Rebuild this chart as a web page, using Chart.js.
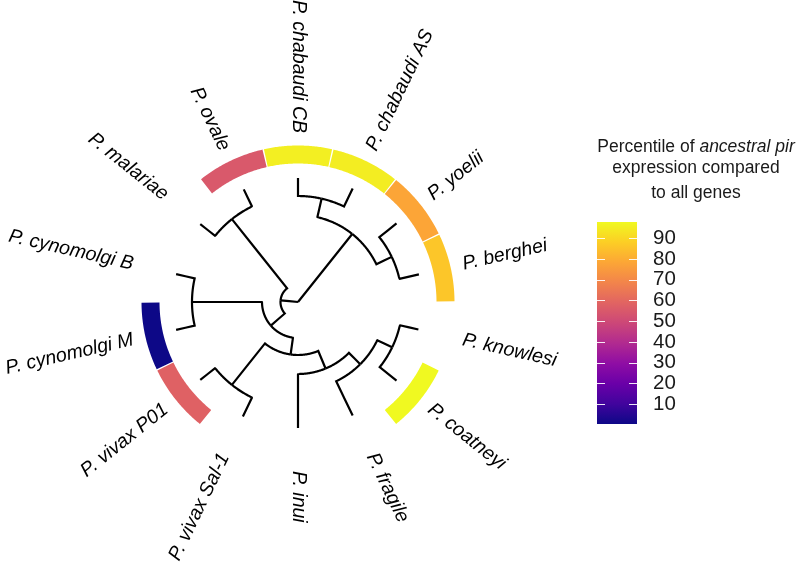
<!DOCTYPE html>
<html>
<head>
<meta charset="utf-8">
<script src="https://cdn.jsdelivr.net/npm/chart.js@4.4.1/dist/chart.umd.min.js"></script>
<style>
  body { margin: 0; background: #fff; }
  #wrap { position: relative; width: 796px; height: 576px; font-family: "Liberation Sans", Arial, sans-serif; }
  #tree { position: absolute; left: 0; top: 0; }
  #bar { position: absolute; left: 597px; top: 222px; }
  .ttl { position: absolute; left: 596px; width: 200px; text-align: center; font-size: 17.5px; line-height: 20px; color: #1a1a1a; white-space: nowrap; }
</style>
</head>
<body>
<div id="wrap">
  <canvas id="tree" width="796" height="576"></canvas>
  <div class="ttl" style="top:136px">Percentile of <i>ancestral pir</i></div>
  <div class="ttl" style="top:157px">expression compared</div>
  <div class="ttl" style="top:182px">to all genes</div>
  <canvas id="bar" width="80" height="202"></canvas>
</div>
<script>
// tips in tree order, anticlockwise starting just above 3 o'clock
const tipNames = ['P. berghei', 'P. yoelii', 'P. chabaudi AS', 'P. chabaudi CB', 'P. ovale', 'P. malariae',
  'P. cynomolgi B', 'P. cynomolgi M', 'P. vivax P01', 'P. vivax Sal-1', 'P. inui', 'P. fragile',
  'P. coatneyi', 'P. knowlesi'];
const tipParent = ['rodB', 'rodB', 'chab', 'chab', 'malOv', 'malOv', 'cyno', 'cyno', 'vivax', 'vivax',
  'inuiCl', 'fragCl', 'knowCl', 'knowCl'];
const tipDepth = [124, 126, 126, 124, 125, 125, 125, 125, 125, 127, 126, 126, 126, 123.5];
// percentile of ancestral pir expression (null = no ring segment)
const pirPercentile = [86, 78, 95, 95.5, 55, null, null, 0.4, 58, null, null, null, 97.8, null];

// internal nodes
const nodeNames = ['root', 'rod', 'chab', 'rodB', 'n1', 'malOv', 'n2', 'cyno', 'n3', 'vivax', 'inuiCl', 'fragCl', 'knowCl'];
const nodeParent = [null, 'root', 'rod', 'rod', 'root', 'n1', 'n1', 'n2', 'n2', 'n3', 'n3', 'inuiCl', 'fragCl'];
const nodeDepth = [0, 87, 106, 104, 17.5, 106, 36, 106, 53, 106, 72, 88, 104.5];

const barTicks = [10, 20, 30, 40, 50, 60, 70, 80, 90];

const plasmaStops = ['#0d0887', '#41049d', '#6a00a8', '#8f0da4', '#b12a90', '#cc4778',
  '#e16462', '#f2844b', '#fca636', '#fcce25', '#f0f921'];

function hexRgb(h) { return [1, 3, 5].map(i => parseInt(h.substr(i, 2), 16)); }
function plasma(t) {
  t = Math.min(1, Math.max(0, t));
  const f = t * (plasmaStops.length - 1);
  const i = Math.min(Math.floor(f), plasmaStops.length - 2);
  const a = hexRgb(plasmaStops[i]), b = hexRgb(plasmaStops[i + 1]);
  const c = a.map((v, k) => Math.round(v + (b[k] - v) * (f - i)));
  return `rgb(${c[0]},${c[1]},${c[2]})`;
}

const vals = pirPercentile.filter(v => v != null);
const vMin = Math.min(...vals), vMax = Math.max(...vals);

// layout: tips evenly spaced, internal node angle = mean of children
const step = 360 / tipNames.length;
const angle = {}, depth = {}, parentOf = {};
tipNames.forEach((n, i) => { angle[n] = (i + 0.5) * step; depth[n] = tipDepth[i]; parentOf[n] = tipParent[i]; });
nodeNames.forEach((n, i) => { depth[n] = nodeDepth[i]; parentOf[n] = nodeParent[i]; });
function nodeAngle(n) {
  if (angle[n] !== undefined) return angle[n];
  const kids = Object.keys(parentOf).filter(k => parentOf[k] === n);
  angle[n] = kids.reduce((s, k) => s + nodeAngle(k), 0) / kids.length;
  return angle[n];
}
nodeNames.forEach(nodeAngle);

const rad = d => d * Math.PI / 180;
const pt = (r, deg) => ({ x: r * Math.cos(rad(deg)), y: r * Math.sin(rad(deg)) });
function arcPts(r, a0, a1) {
  const n = Math.max(2, Math.ceil(Math.abs(a1 - a0)) + 1);
  const out = [];
  for (let k = 0; k < n; k++) out.push(pt(r, a0 + (a1 - a0) * k / (n - 1)));
  return out;
}

// branches: arc at parent depth, then radial line out to the child
// (tiny tension keeps chart.js off its fast path, which merges same-x points)
const edgeSets = Object.keys(parentOf).filter(k => parentOf[k]).map(k => {
  const p = parentOf[k];
  const data = arcPts(depth[p], angle[p], angle[k]);
  data.push(pt(depth[k], angle[k]));
  return { data, showLine: true, borderColor: '#000', borderWidth: 2.2, borderJoinStyle: 'miter',
    borderCapStyle: 'butt', pointRadius: 0, tension: 0.0001 };
});

const ringR = 147.5, half = step / 2 - 0.25;
const ringSets = [];
tipNames.forEach((n, i) => {
  if (pirPercentile[i] == null) return;
  ringSets.push({ data: arcPts(ringR, angle[n] - half, angle[n] + half), showLine: true,
    borderColor: plasma((pirPercentile[i] - vMin) / (vMax - vMin)), borderWidth: 18,
    borderCapStyle: 'butt', borderJoinStyle: 'round', pointRadius: 0, tension: 0.0001 });
});

const labelR = 169;
const tipLabels = {
  id: 'tipLabels',
  afterDatasetsDraw(chart) {
    const { ctx, scales: { x, y } } = chart;
    ctx.save();
    ctx.font = 'italic 19.5px "Liberation Sans", Arial, sans-serif';
    ctx.fillStyle = '#000';
    ctx.textBaseline = 'middle';
    tipNames.forEach(n => {
      const a = angle[n], p = pt(labelR, a);
      const flip = a > 89 && a < 269;
      ctx.save();
      ctx.translate(x.getPixelForValue(p.x), y.getPixelForValue(p.y));
      ctx.rotate(-rad(flip ? a - 180 : a));
      ctx.textAlign = flip ? 'right' : 'left';
      ctx.fillText(n, 0, 0);
      ctx.restore();
    });
    ctx.restore();
  }
};

new Chart(document.getElementById('tree'), {
  type: 'scatter',
  data: { datasets: ringSets.concat(edgeSets) },
  options: {
    responsive: false, animation: false, events: [],
    layout: { padding: 0 },
    plugins: { legend: { display: false }, tooltip: { enabled: false } },
    scales: {
      x: { type: 'linear', min: -298, max: 498, display: false },
      y: { type: 'linear', min: -274, max: 302, display: false }
    }
  },
  plugins: [tipLabels]
});

// colour bar
const barMarks = {
  id: 'barMarks',
  afterDatasetsDraw(chart) {
    const { ctx, chartArea: a, scales: { y } } = chart;
    ctx.save();
    ctx.strokeStyle = 'rgba(255,255,255,0.9)';
    ctx.lineWidth = 1;
    barTicks.forEach(v => {
      const py = Math.round(y.getPixelForValue(v)) + 0.5;
      ctx.beginPath();
      ctx.moveTo(a.left, py); ctx.lineTo(a.left + 8, py);
      ctx.moveTo(a.right - 8, py); ctx.lineTo(a.right, py);
      ctx.stroke();
    });
    ctx.restore();
  }
};

new Chart(document.getElementById('bar'), {
  type: 'bar',
  data: {
    labels: [''],
    datasets: [{
      data: [[vMin, vMax]],
      barPercentage: 1, categoryPercentage: 1, borderWidth: 0,
      backgroundColor: c => {
        const ch = c.chart;
        if (!ch.chartArea) return null;
        const ys = ch.scales.y;
        const g = ch.ctx.createLinearGradient(0, ys.getPixelForValue(vMin), 0, ys.getPixelForValue(vMax));
        plasmaStops.forEach((s, i) => g.addColorStop(i / (plasmaStops.length - 1), s));
        return g;
      }
    }]
  },
  options: {
    responsive: false, animation: false, events: [],
    layout: { padding: 0 },
    plugins: { legend: { display: false }, tooltip: { enabled: false } },
    scales: {
      x: { display: false },
      y: {
        position: 'right', min: vMin, max: vMax,
        grid: { display: false, drawTicks: false }, border: { display: false },
        ticks: { padding: 16, autoSkip: false, color: '#1a1a1a',
          font: { size: 20.5, family: '"Liberation Sans", Arial, sans-serif' } },
        afterBuildTicks: s => { s.ticks = barTicks.map(v => ({ value: v })); },
        afterFit: s => { s.width = 40; s.paddingTop = 0; s.paddingBottom = 0; }
      }
    }
  },
  plugins: [barMarks]
});
</script>
</body>
</html>
